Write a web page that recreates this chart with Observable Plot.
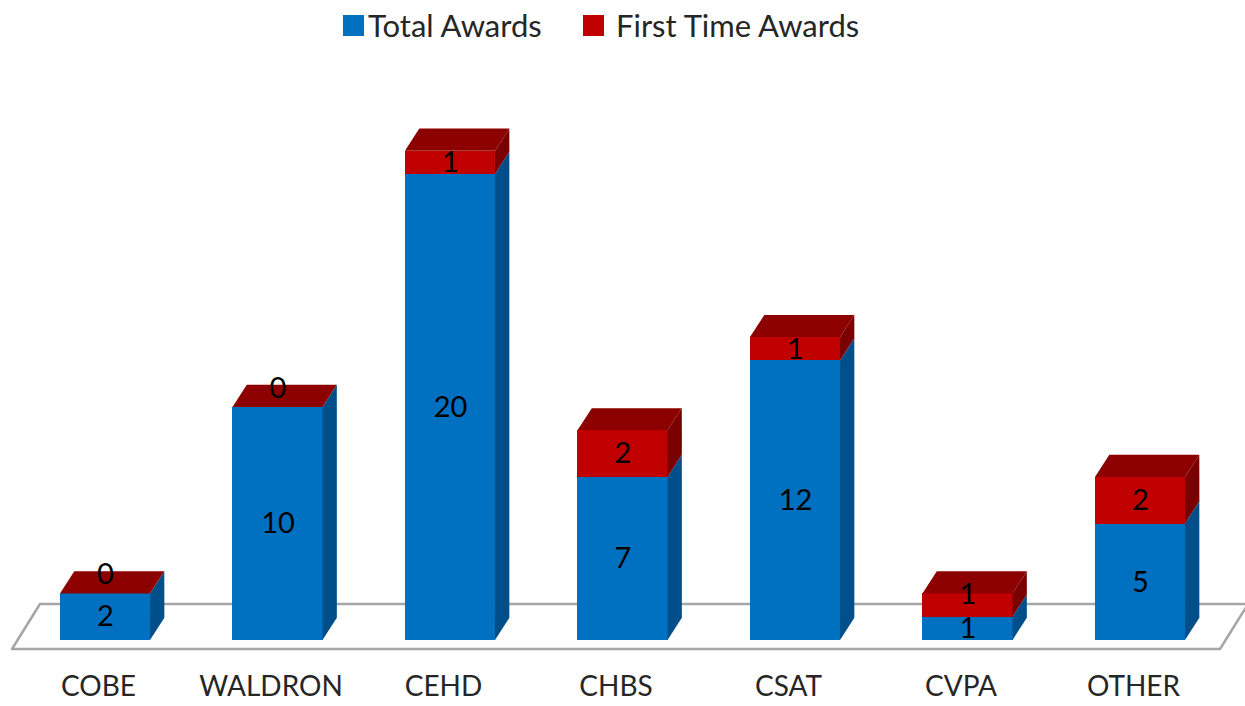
<!DOCTYPE html>
<html>
<head>
<meta charset="utf-8">
<script src="https://cdn.jsdelivr.net/npm/d3@7"></script>
<script src="https://cdn.jsdelivr.net/npm/@observablehq/plot@0.6"></script>
<style>
  body { margin: 0; background: #fff; font-family: Lato, "Open Sans", sans-serif; }
  #legend { height: 50px; position: relative; color: #262626; font-size: 31px; }
  .item { position: absolute; top: 6px; display: flex; align-items: center; white-space: nowrap; }
  .sw { width: 21px; height: 21px; }
</style>
</head>
<body>
<div id="legend"></div>
<div id="chart"></div>
<script>
const categories = ["COBE", "WALDRON", "CEHD", "CHBS", "CSAT", "CVPA", "OTHER"];
const totalAwards = [2, 10, 20, 7, 12, 1, 5];
const firstTimeAwards = [0, 0, 1, 2, 1, 1, 2];
const seriesNames = ["Total Awards", "First Time Awards"];
const seriesColors = ["#0070c0", "#c00000"];

// legend
const legend = document.getElementById("legend");
const legendX = [343, 583];
const legendGap = [4, 12];
seriesNames.forEach((name, k) => {
  const it = document.createElement("div");
  it.className = "item";
  it.style.left = legendX[k] + "px";
  it.innerHTML = `<span class="sw" style="background:${seriesColors[k]};margin-right:${legendGap[k]}px"></span><span>${name}</span>`;
  legend.appendChild(it);
});

// geometry (in scale units)
const hw = 0.261;   // half bar width (category units)
const dx = 0.083;   // depth in x
const dy = 0.95;    // depth in y
const blueSide = "#004f8a", redTop = "#8c0000", redSide = "#7a0000";

const fronts = [], sides = [], tops = [], labels = [];
categories.forEach((c, i) => {
  const t = totalAwards[i], f = firstTimeAwards[i];
  const x0 = i - hw, x1 = i + hw;
  const segs = [
    {b: 0, h: t, fill: seriesColors[0], side: blueSide, v: t},
    {b: t, h: t + f, fill: seriesColors[1], side: redSide, v: f}
  ];
  segs.forEach((s, k) => {
    const id = c + k;
    fronts.push({x1: x0, x2: x1, y1: s.b, y2: s.h, fill: s.fill});
    sides.push({id, fill: s.side, x: x1, lo: s.b, hi: s.h});
    sides.push({id, fill: s.side, x: x1 + dx, lo: s.b + dy, hi: s.h + dy});
    // Excel nudges a label up when it would collide with the one below
    const shift = s.v === 0 ? -19 : (k === 1 && t < 2 ? -11 : 0);
    labels.push({x: i, y: (s.b + s.h) / 2, text: String(s.v), shift});
  });
  const top = t + f;
  const id = c + "top";
  tops.push({id, x: x0, lo: top, hi: top});
  tops.push({id, x: x0 + dx, lo: top, hi: top + dy});
  tops.push({id, x: x1, lo: top, hi: top + dy});
  tops.push({id, x: x1 + dx, lo: top + dy, hi: top + dy});
});

// floor
const fl = {x0: -0.539, x1: 6.464, fdx: 0.162, b: -0.386, d: 1.93};
const floor = [
  {x: fl.x0, lo: fl.b, hi: fl.b},
  {x: fl.x0 + fl.fdx, lo: fl.b, hi: fl.b + fl.d},
  {x: fl.x1, lo: fl.b, hi: fl.b + fl.d},
  {x: fl.x1 + fl.fdx, lo: fl.b + fl.d, hi: fl.b + fl.d}
];

const shifts = [...new Set(labels.map(d => d.shift))];

const chart = Plot.plot({
  width: 1245,
  height: 656,
  marginTop: 0,
  marginBottom: 66,
  marginLeft: 0,
  marginRight: 0,
  x: {domain: [-0.5, 6.5], range: [18.75, 1226.25], axis: null},
  y: {domain: [0, 20], range: [590, 124], axis: null},
  style: {fontFamily: "Lato, 'Open Sans', sans-serif", overflow: "visible"},
  marks: [
    Plot.areaY(floor, {x: "x", y1: "lo", y2: "hi", fill: "#fff", stroke: "#a6a6a6", strokeWidth: 2.5, curve: "linear"}),
    Plot.rect(fronts, {x1: "x1", x2: "x2", y1: "y1", y2: "y2", fill: "fill", inset: 0}),
    Plot.areaY(sides, {x: "x", y1: "lo", y2: "hi", z: "id", fill: "fill", curve: "linear"}),
    Plot.areaY(tops, {x: "x", y1: "lo", y2: "hi", z: "id", fill: redTop, curve: "linear"}),
    ...shifts.map(s => Plot.text(labels.filter(d => d.shift === s), {x: "x", y: "y", text: "text", fontSize: 29, fill: "#000", dy: s})),
    Plot.axisX({ticks: d3.range(categories.length), tickFormat: i => categories[i], tickSize: 0, tickPadding: 36, fontSize: 28, fill: "#262626", dx: -7, label: null})
  ]
});
chart.querySelectorAll("rect").forEach(r => r.setAttribute("shape-rendering", "crispEdges"));
document.getElementById("chart").appendChild(chart);
</script>
</body>
</html>
